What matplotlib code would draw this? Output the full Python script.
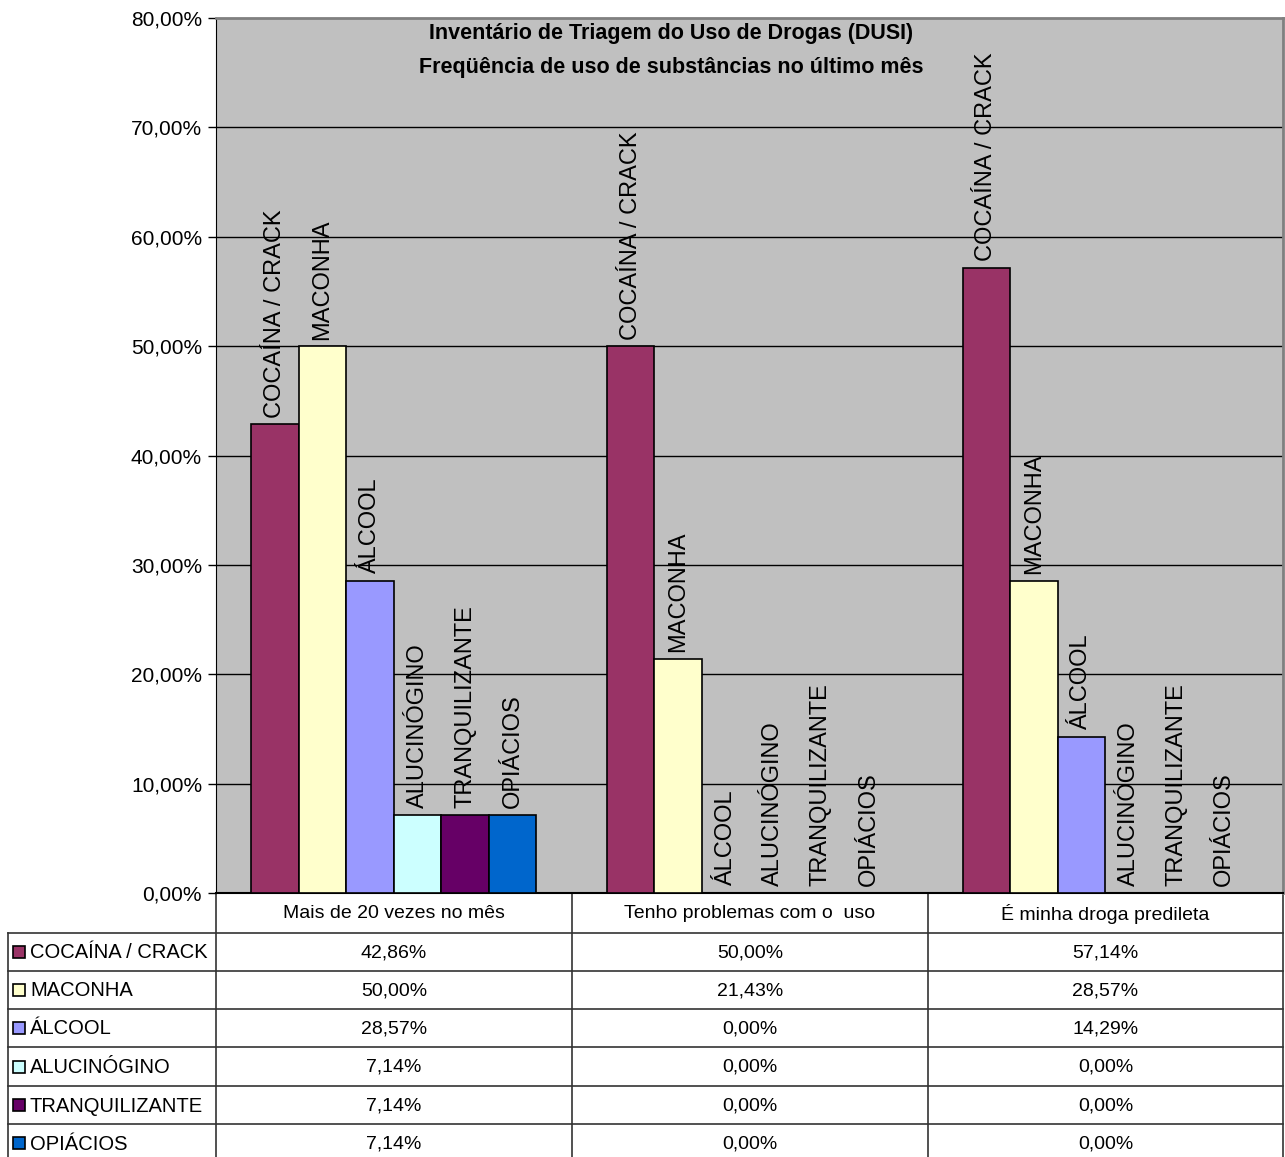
import numpy as np
import matplotlib
matplotlib.use("Agg")
import matplotlib.pyplot as plt
from matplotlib.patches import Rectangle

plt.rcParams['font.family'] = ['Liberation Sans', 'DejaVu Sans']

categories = ['Mais de 20 vezes no mês', 'Tenho problemas com o  uso', 'É minha droga predileta']
substances = ['COCAÍNA / CRACK', 'MACONHA', 'ÁLCOOL', 'ALUCINÓGINO', 'TRANQUILIZANTE', 'OPIÁCIOS']
cocaina = [42.86, 50.00, 57.14]
maconha = [50.00, 21.43, 28.57]
alcool = [28.57, 0.00, 14.29]
alucinogino = [7.14, 0.00, 0.00]
tranquilizante = [7.14, 0.00, 0.00]
opiacios = [7.14, 0.00, 0.00]
series = [cocaina, maconha, alcool, alucinogino, tranquilizante, opiacios]
colors = ['#993366', '#FFFFCC', '#9999FF', '#CCFFFF', '#660066', '#0066CC']
yticks = np.arange(0, 81, 10)

W, H = 1285, 1157
fig = plt.figure(figsize=(W / 100, H / 100), dpi=100)

# chart area (pixel layout of the reference)
ax = fig.add_axes([216 / W, (H - 893) / H, (1283 - 216) / W, (893 - 18) / H])
ax.set_facecolor('#C0C0C0')
x = np.arange(len(categories))
bw = 0.1337
for i, (name, vals, c) in enumerate(zip(substances, series, colors)):
    xs = x + (i - 2.5) * bw
    ax.bar(xs, vals, width=bw, color=c, edgecolor='black', linewidth=1.2, zorder=3)
    for xi, v in zip(xs, vals):
        ax.text(xi, v + 0.6, name, rotation=90, ha='center', va='bottom',
                fontsize=17, zorder=4)

ax.set_xlim(-0.5, 2.5)
ax.set_ylim(0, 80)
ax.set_yticks(yticks)
ax.set_yticklabels([f'{t:.2f}%'.replace('.', ',') for t in yticks], fontsize=15)
ax.set_xticks([])
ax.tick_params(axis='y', direction='out', length=6, width=1, pad=4)
for t in yticks[1:-1]:
    ax.axhline(t, color='black', linewidth=1, zorder=1)
ax.spines['left'].set_color('black')
ax.spines['bottom'].set_color('black')
ax.spines['bottom'].set_linewidth(1.5)
for s in ['top', 'right']:
    ax.spines[s].set_color('#808080')
    ax.spines[s].set_linewidth(2)

fig.text(671 / W, 1 - 33 / H, 'Inventário de Triagem do Uso de Drogas (DUSI)',
         ha='center', va='center', fontsize=15.5, fontweight='bold')
fig.text(671 / W, 1 - 68 / H, 'Freqüência de uso de substâncias no último mês',
         ha='center', va='center', fontsize=15.5, fontweight='bold')

# data table under the chart
tab = fig.add_axes([0, 0, 1, 1], zorder=-1)
tab.set_xlim(0, W)
tab.set_ylim(H, 0)
tab.axis('off')
col_edges = [8, 216, 572, 928, 1283]
row_edges = [893, 933, 971, 1009, 1047, 1086, 1124, 1162]
line_kw = dict(color='#333333', linewidth=1.2)
for j, xe in enumerate(col_edges):
    y0 = row_edges[0] if j > 0 else row_edges[1]
    tab.plot([xe, xe], [y0, H], **line_kw)
for r, ye in enumerate(row_edges[1:-1]):
    tab.plot([col_edges[0], col_edges[-1]], [ye, ye], **line_kw)

for j, cat in enumerate(categories):
    xc = (col_edges[j + 1] + col_edges[j + 2]) / 2
    yc = (row_edges[0] + row_edges[1]) / 2 + 1
    tab.text(xc, yc, cat, ha='center', va='center', fontsize=14)

for r, (name, vals, c) in enumerate(zip(substances, series, colors)):
    yc = (row_edges[r + 1] + row_edges[r + 2]) / 2
    if r == len(substances) - 1:
        yc = row_edges[r + 1] + 19
    tab.add_patch(Rectangle((13, yc - 6), 12, 12, facecolor=c,
                            edgecolor='black', linewidth=1.2))
    tab.text(30, yc + 1, name, ha='left', va='center', fontsize=14.5)
    for j, v in enumerate(vals):
        xc = (col_edges[j + 1] + col_edges[j + 2]) / 2
        tab.text(xc, yc + 1, f'{v:.2f}%'.replace('.', ','), ha='center',
                 va='center', fontsize=14)

fig.savefig('out.png', dpi=100)
